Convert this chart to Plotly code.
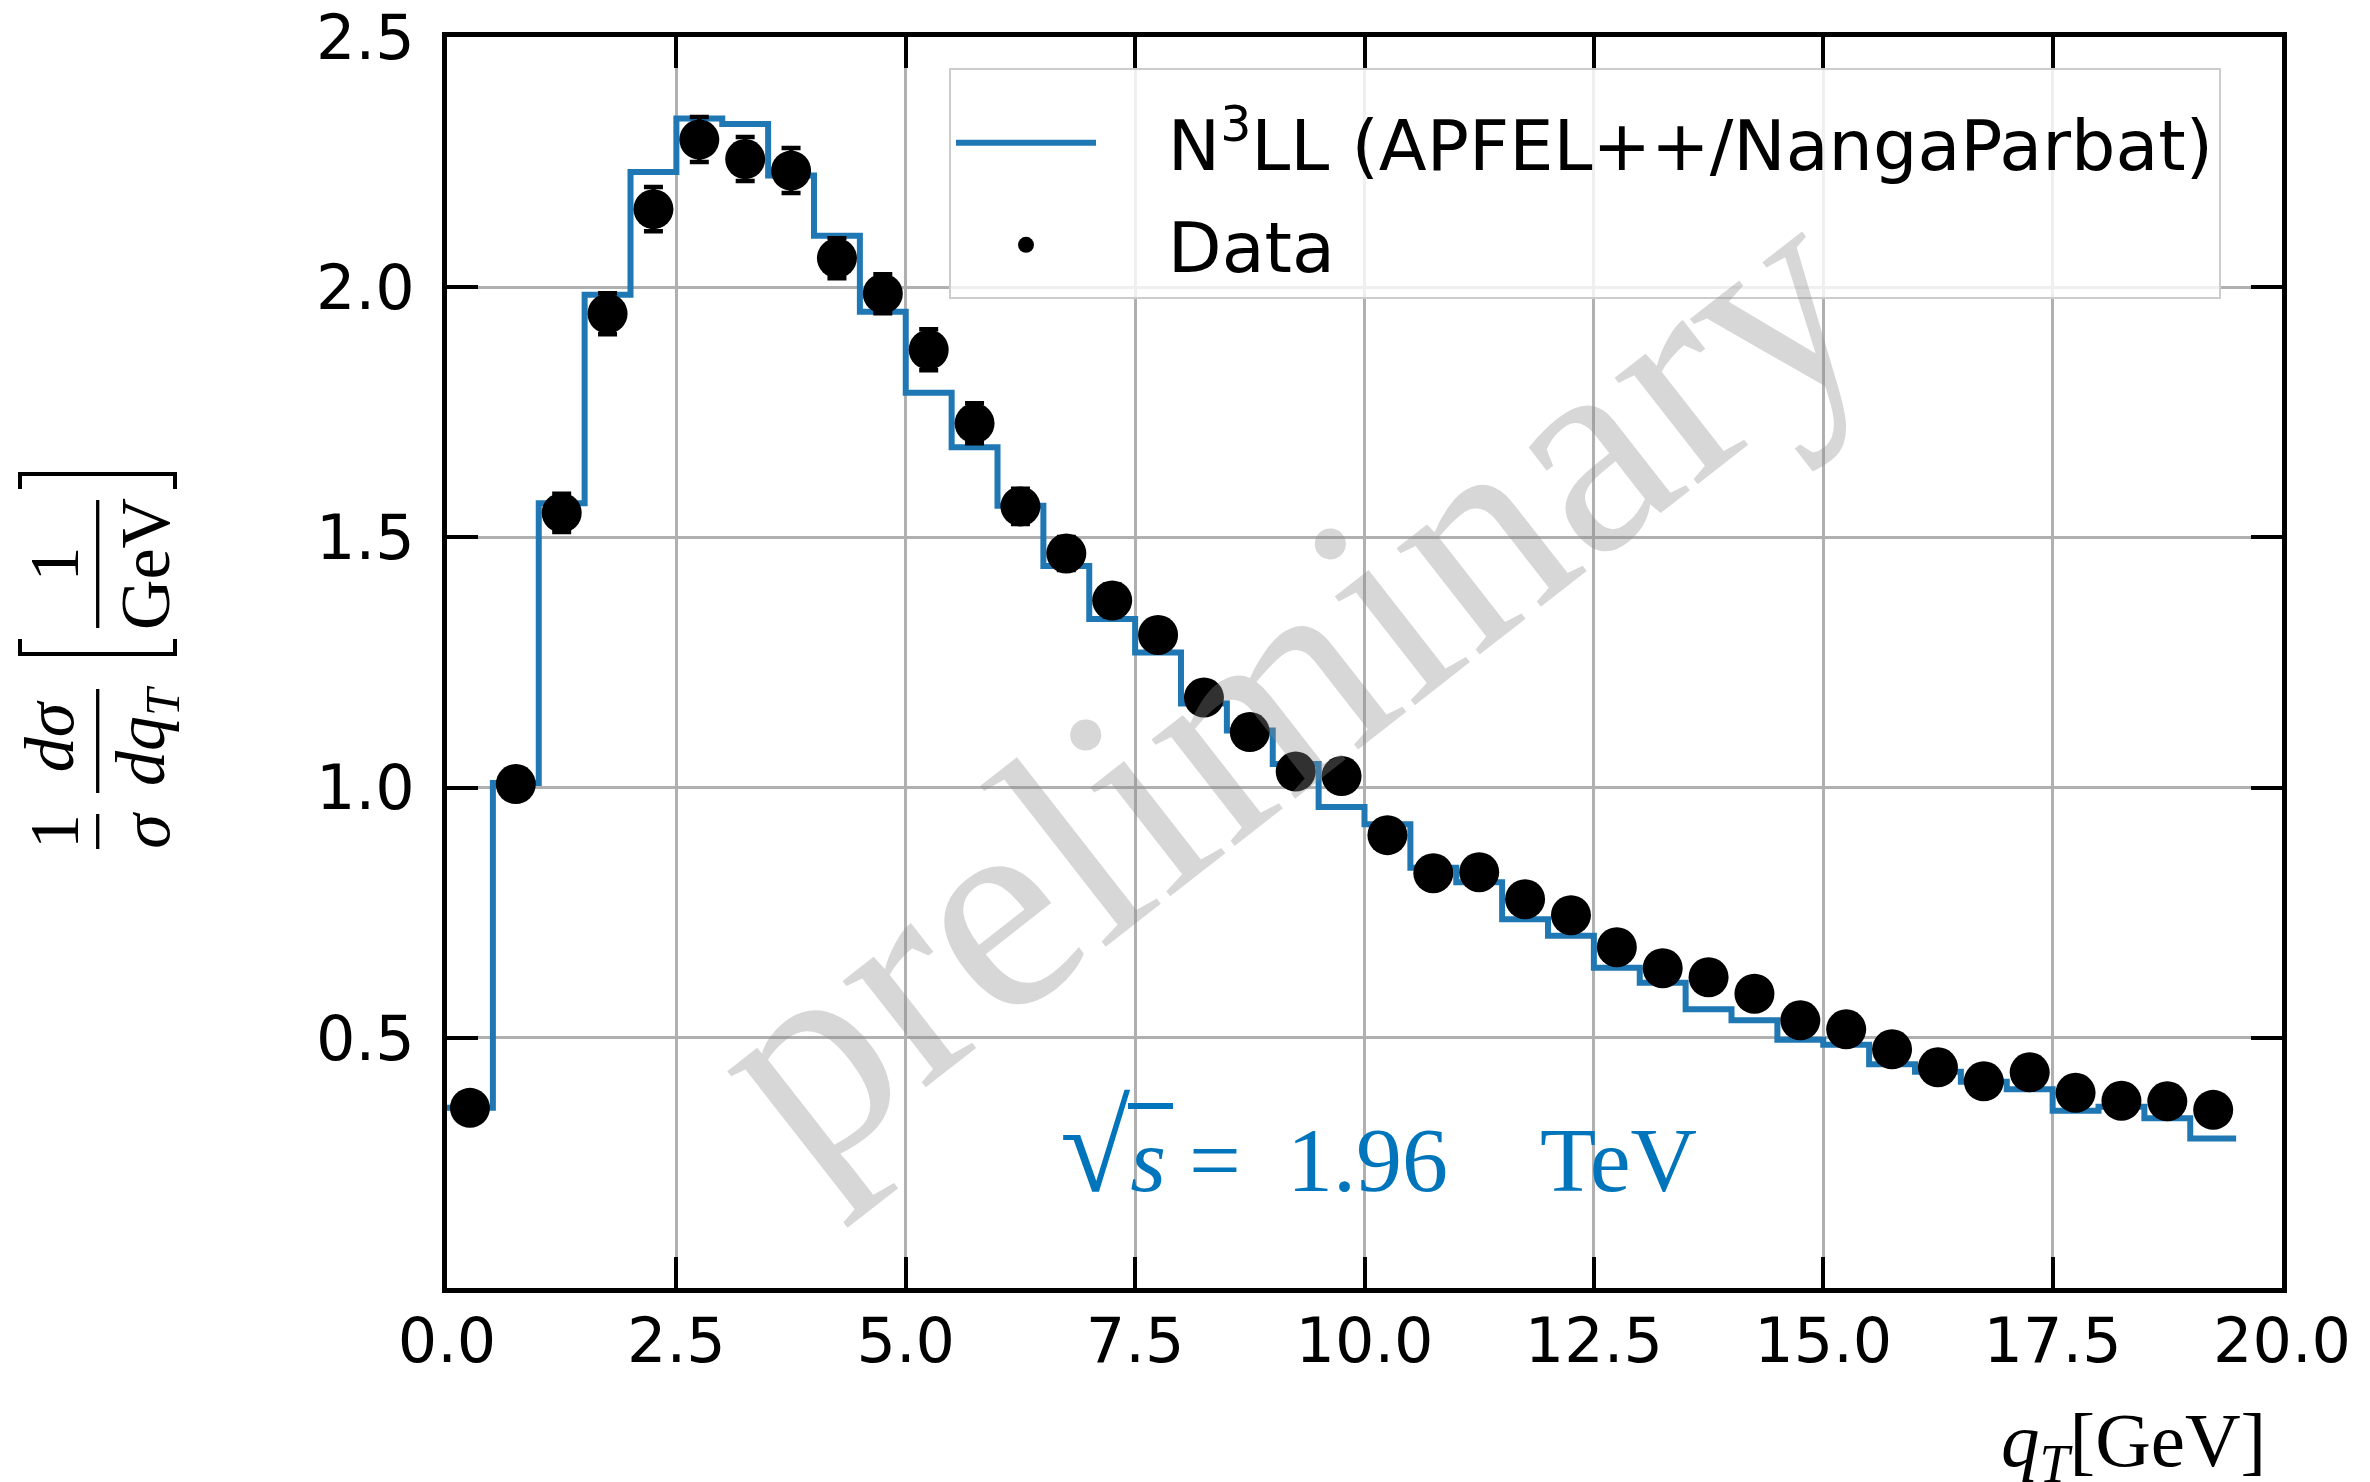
import plotly.graph_objects as go

# ---------------- data ----------------
qT_centers = [0.25, 0.75, 1.25, 1.75, 2.25, 2.75, 3.25, 3.75, 4.25, 4.75,
              5.25, 5.75, 6.25, 6.75, 7.25, 7.75, 8.25, 8.75, 9.25, 9.75,
              10.25, 10.75, 11.25, 11.75, 12.25, 12.75, 13.25, 13.75, 14.25, 14.75,
              15.25, 15.75, 16.25, 16.75, 17.25, 17.75, 18.25, 18.75, 19.25]
bin_halfwidth = 0.25

theory = [0.360, 1.009, 1.568, 1.985, 2.230, 2.337, 2.326, 2.223, 2.103, 1.951,
          1.789, 1.680, 1.563, 1.443, 1.337, 1.270, 1.168, 1.114, 1.047, 0.961,
          0.927, 0.840, 0.811, 0.737, 0.704, 0.640, 0.610, 0.557, 0.535, 0.496,
          0.486, 0.447, 0.432, 0.412, 0.397, 0.354, 0.362, 0.339, 0.299]

data_vals = [0.360, 1.007, 1.549, 1.947, 2.156, 2.295, 2.256, 2.233, 2.058, 1.987,
             1.875, 1.728, 1.562, 1.468, 1.374, 1.305, 1.180, 1.111, 1.032, 1.023,
             0.905, 0.829, 0.831, 0.777, 0.745, 0.681, 0.639, 0.621, 0.588, 0.535,
             0.517, 0.477, 0.441, 0.413, 0.431, 0.390, 0.374, 0.373, 0.356]

data_err = [0.015, 0.025, 0.038, 0.041, 0.044, 0.045, 0.044, 0.045, 0.040, 0.039,
            0.041, 0.040, 0.035, 0.033, 0.032, 0.030, 0.028, 0.027, 0.026, 0.025,
            0.023, 0.022, 0.022, 0.021, 0.020, 0.019, 0.018, 0.018, 0.017, 0.016,
            0.016, 0.015, 0.015, 0.014, 0.015, 0.014, 0.014, 0.014, 0.014]

x_ticks = [0.0, 2.5, 5.0, 7.5, 10.0, 12.5, 15.0, 17.5, 20.0]
y_ticks = [0.5, 1.0, 1.5, 2.0, 2.5]

# step-line edges built from bin centres
step_x = [c - bin_halfwidth for c in qT_centers] + [qT_centers[-1] + bin_halfwidth]
step_y = theory + [theory[-1]]

W, H = 2370, 1482
L, R, T, B = 447, 88, 37, 194
PW, PH = W - L - R, H - T - B

def px(x):
    return (x - L) / PW

def py(y):
    return (H - B - y) / PH

SERIF = "Liberation Serif"
SANS = "DejaVu Sans"
BLUE = "#1f77b4"
TXTBLUE = "#0075bb"
SP = "\u00a0"

fig = go.Figure()
fig.add_trace(go.Scatter(
    x=step_x, y=step_y, mode="lines", line=dict(shape="hv", color=BLUE, width=6),
    name=SP * 3 + "N<sup>3</sup>LL (APFEL++/NangaParbat)", legendgroup="theory"))
fig.add_trace(go.Scatter(
    x=qT_centers, y=data_vals, mode="markers", name=SP * 3 + "Data", legendgroup="data",
    marker=dict(color="black", size=40),
    error_y=dict(type="data", array=data_err, color="black", thickness=4.5, width=9.5)))

axis_common = dict(
    showline=True, linewidth=5, linecolor="black", mirror="ticks",
    ticks="inside", ticklen=31, tickwidth=4, tickcolor="black",
    showgrid=True, gridcolor="#b0b0b0", gridwidth=2.5, zeroline=False,
    tickfont=dict(family=SANS, size=62, color="black"), automargin=False,
)
fig.update_xaxes(range=[0, 20], tickvals=x_ticks, tickformat=".1f",
                 ticklabelstandoff=-5, **axis_common)
fig.update_yaxes(range=[0, 2.5], tickvals=y_ticks, tickformat=".1f",
                 ticklabelstandoff=15, **axis_common)

annotations = []
# watermark
annotations.append(dict(text="preliminary", xref="paper", yref="paper", x=0.4567, y=0.485,
                        xanchor="center", yanchor="middle", showarrow=False, textangle=-38,
                        font=dict(family=SERIF, size=294, color="rgba(140,140,140,0.35)")))
# sqrt(s) label
annotations.append(dict(text="<span style='font-size:128px'>√</span><i>s</i>" + SP + "=" + SP * 2
                        + "1.96" + SP * 4 + "TeV",
                        xref="paper", yref="paper", x=px(1058), y=py(1148),
                        xanchor="left", yanchor="middle", showarrow=False,
                        font=dict(family=SERIF, size=92, color=TXTBLUE)))
# x-axis title
annotations.append(dict(text="<i>q</i><sub><i>T</i></sub>[GeV]", xref="paper", yref="paper",
                        x=px(2268), y=py(1445), xanchor="right", yanchor="middle",
                        showarrow=False, font=dict(family=SERIF, size=77, color="black")))
# y-axis title pieces (rotated fractions)
for txt, yc in [("1<br><i>σ</i>", 831), ("<i>dσ</i><br><i>dq</i><sub><i>T</i></sub>", 736),
                ("1<br>GeV", 564)]:
    annotations.append(dict(text=txt, xref="paper", yref="paper", x=px(100), y=py(yc),
                            xanchor="center", yanchor="middle", showarrow=False, textangle=-90,
                            font=dict(family=SERIF, size=70, color="black")))

shapes = []
# fraction bars
for y0, y1 in [(814, 849), (689, 793), (500, 628)]:
    shapes.append(dict(type="line", xref="paper", yref="paper", x0=px(97.7), x1=px(97.7),
                       y0=py(y0), y1=py(y1), line=dict(color="black", width=3.3)))
# brackets
shapes.append(dict(type="path", xref="paper", yref="paper",
                   path=f"M{px(20)},{py(639)} L{px(20)},{py(654)} L{px(175)},{py(654)} L{px(175)},{py(639)}",
                   line=dict(color="black", width=4)))
shapes.append(dict(type="path", xref="paper", yref="paper",
                   path=f"M{px(20)},{py(489)} L{px(20)},{py(474)} L{px(175)},{py(474)} L{px(175)},{py(489)}",
                   line=dict(color="black", width=4)))
# overline of the square root
shapes.append(dict(type="line", xref="paper", yref="paper", x0=px(1128), x1=px(1173),
                   y0=py(1106), y1=py(1106), line=dict(color=TXTBLUE, width=6)))

fig.update_layout(
    width=W, height=H, margin=dict(l=L, r=R, t=T, b=B),
    plot_bgcolor="white", paper_bgcolor="white",
    showlegend=True,
    legend=dict(x=px(949), y=py(68), xanchor="left", yanchor="top",
                bgcolor="rgba(255,255,255,0.8)", bordercolor="#cccccc", borderwidth=2,
                font=dict(family=SANS, size=70, color="black"), itemwidth=140,
                tracegroupgap=8,
                title=dict(text=SP, font=dict(family=SANS, size=16))),
    annotations=annotations, shapes=shapes,
)

fig.write_html("out.html")
